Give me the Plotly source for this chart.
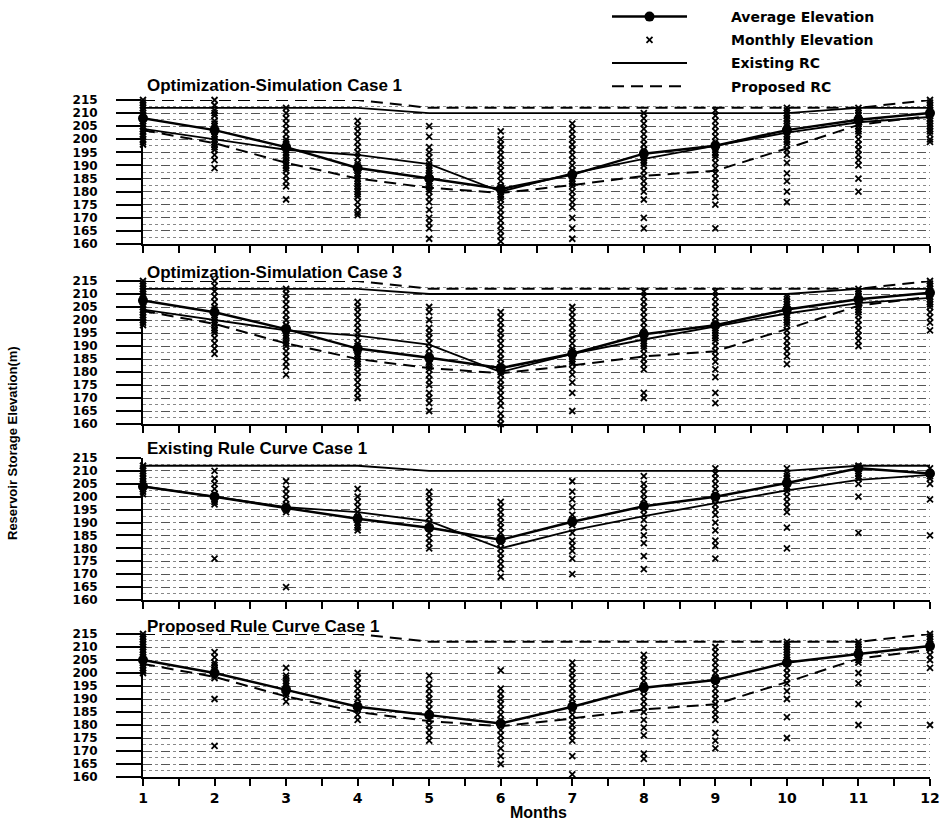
import plotly.graph_objects as go
from plotly.subplots import make_subplots

months = list(range(1, 13))

panel_titles = [
    "Optimization-Simulation Case 1",
    "Optimization-Simulation Case 3",
    "Existing Rule Curve Case 1",
    "Proposed Rule Curve Case 1",
]

# Rule curves (m)
existing_upper = [212, 212, 212, 212, 210, 210, 210, 210, 210, 210, 212, 212]
existing_lower = [204, 200, 196, 194, 190.5, 180, 187, 192.5, 197.5, 202.5, 206.5, 208.5]
proposed_upper = [215, 215, 215, 215, 212, 212, 212, 212, 212, 212, 212, 215]
proposed_lower = [203.5, 198.5, 191, 185, 181.5, 179.5, 182.5, 186, 188, 196.5, 205.5, 209]

# Average elevation per panel
avg_opt1 = [208, 203.5, 197, 189, 185, 181, 186.5, 194.5, 197.5, 203.5, 207.5, 210]
avg_opt3 = [207.5, 203, 196.5, 189, 185.5, 181.5, 187, 194.5, 198, 204, 208, 210.5]
avg_erc1 = [204, 200, 195.6, 191.5, 188, 183.3, 190.3, 196.3, 200, 205.3, 211, 209]
avg_prc1 = [205, 200, 193.5, 187, 183.8, 180.6, 187, 194.3, 197.3, 204, 207.3, 210.4]

# Monthly elevations, one list per month
monthly_opt1 = [
    [215, 214, 213, 212, 211, 210, 209, 208, 207, 206, 205, 204, 203, 202, 201, 200, 199, 198],
    [215, 213, 211, 210, 209, 207, 206, 205, 204, 203, 202, 201, 200, 199, 198, 197, 196, 194, 192, 189],
    [212, 210, 208, 206, 204, 202, 200, 199, 198, 197, 196, 195, 194, 193, 192, 191, 190, 189, 188, 186, 184, 182, 177],
    [207, 205, 203, 201, 199, 197, 195, 193, 191, 190, 189, 188, 187, 186, 185, 184, 183, 182, 181, 180, 179, 178, 176, 174, 172, 171],
    [205, 201, 197, 195, 193, 191, 190, 189, 188, 187, 186, 185, 184, 183, 182, 181, 180, 178, 176, 173, 170, 168, 166, 162],
    [203, 200, 198, 196, 194, 192, 190, 188, 186, 184, 182, 181, 180, 179, 178, 177, 175, 173, 171, 169, 167, 165, 163, 161],
    [206, 204, 202, 200, 198, 196, 194, 192, 190, 188, 186, 185, 184, 183, 182, 180, 178, 176, 174, 170, 166, 162],
    [210, 208, 206, 204, 202, 200, 198, 196, 195, 194, 193, 192, 191, 190, 188, 186, 184, 182, 180, 177, 170, 166],
    [211, 209, 207, 205, 203, 201, 199, 198, 197, 196, 195, 194, 193, 191, 189, 187, 185, 183, 181, 178, 175, 166],
    [212, 211, 210, 209, 208, 207, 206, 205, 204, 203, 202, 201, 200, 199, 198, 196, 194, 191, 187, 184, 180, 176],
    [212, 211, 210, 209, 208, 207, 206, 205, 204, 203, 202, 200, 198, 196, 194, 192, 190, 185, 180],
    [215, 214, 213, 212, 211, 210, 209, 208, 207, 206, 205, 204, 203, 202, 200, 199],
]
monthly_opt3 = [
    [215, 214, 213, 212, 211, 210, 209, 208, 207, 206, 205, 204, 203, 202, 201, 200, 199, 198],
    [215, 213, 211, 209, 207, 205, 204, 203, 202, 201, 200, 199, 198, 197, 196, 195, 193, 191, 189, 187],
    [212, 210, 208, 206, 204, 202, 200, 198, 197, 196, 195, 194, 193, 192, 191, 190, 188, 186, 184, 182, 179],
    [207, 205, 203, 201, 199, 197, 195, 193, 191, 190, 189, 188, 187, 186, 185, 184, 183, 182, 180, 178, 176, 174, 172, 170],
    [205, 203, 200, 197, 195, 193, 191, 189, 187, 186, 185, 184, 183, 182, 181, 179, 177, 175, 172, 170, 168, 165],
    [203, 201, 199, 197, 195, 193, 191, 189, 187, 185, 183, 182, 181, 180, 179, 177, 175, 173, 171, 169, 167, 164, 162, 160],
    [205, 203, 201, 199, 197, 195, 193, 191, 189, 188, 187, 186, 185, 184, 183, 181, 179, 176, 172, 165],
    [211, 209, 207, 205, 203, 201, 199, 197, 195, 194, 193, 192, 191, 190, 189, 187, 185, 183, 181, 172, 170],
    [211, 209, 207, 205, 203, 201, 199, 198, 197, 196, 195, 194, 193, 192, 190, 188, 186, 184, 181, 178, 172, 168],
    [209, 208, 207, 206, 205, 204, 203, 202, 201, 200, 199, 198, 196, 194, 192, 190, 188, 186, 183],
    [212, 211, 210, 209, 208, 207, 206, 205, 204, 203, 202, 200, 198, 196, 194, 192, 190],
    [215, 214, 213, 212, 211, 210, 209, 208, 207, 206, 205, 203, 201, 199, 196],
]
monthly_erc1 = [
    [212, 211, 210, 209, 208, 207, 206, 205, 204, 203, 202, 201],
    [210, 207, 205, 203, 201, 200, 199, 198, 197, 176],
    [206, 203, 201, 199, 197, 196, 195, 194, 165],
    [203, 200, 198, 196, 194, 192, 190, 189, 188, 187],
    [202, 200, 198, 196, 194, 192, 190, 188, 186, 184, 182, 180],
    [198, 196, 194, 192, 190, 188, 186, 184, 182, 180, 178, 176, 174, 172, 169],
    [206, 202, 199, 196, 193, 191, 189, 186, 183, 181, 179, 176, 170],
    [208, 205, 203, 201, 199, 197, 195, 193, 191, 188, 185, 182, 177, 172],
    [211, 209, 207, 205, 203, 201, 199, 197, 195, 193, 190, 187, 183, 181, 176],
    [211, 209, 208, 207, 206, 205, 204, 203, 202, 200, 198, 196, 194, 188, 180],
    [212, 211, 210, 209, 208, 207, 205, 200, 186],
    [211, 209, 208, 207, 205, 199, 185],
]
monthly_prc1 = [
    [215, 214, 213, 212, 211, 210, 209, 208, 207, 206, 205, 204, 203, 202, 201, 200],
    [208, 206, 204, 203, 202, 201, 200, 199, 198, 190, 172],
    [202, 199, 198, 197, 196, 195, 194, 193, 192, 191, 189],
    [200, 198, 196, 194, 192, 190, 188, 186, 184, 182],
    [199, 196, 194, 192, 190, 188, 186, 184, 182, 180, 178, 176, 174],
    [201, 194, 192, 190, 188, 186, 184, 182, 180, 178, 176, 174, 171, 168, 165],
    [204, 202, 200, 198, 196, 194, 192, 190, 188, 186, 184, 182, 180, 178, 176, 174, 168, 161],
    [207, 205, 203, 201, 199, 197, 195, 193, 191, 189, 187, 185, 182, 179, 176, 169, 167],
    [210, 208, 206, 204, 202, 200, 198, 196, 194, 192, 190, 188, 186, 184, 182, 177, 174, 171],
    [212, 211, 210, 209, 208, 207, 206, 205, 204, 202, 200, 198, 196, 193, 190, 183, 175],
    [212, 211, 210, 209, 208, 207, 206, 205, 204, 200, 196, 188, 180],
    [215, 214, 213, 212, 211, 210, 209, 207, 205, 202, 180],
]

x_tick_labels = [str(m) for m in months]
y_tick_vals = list(range(160, 216, 5))

panels = [
    dict(avg=avg_opt1, monthly=monthly_opt1, existing=True, proposed=True),
    dict(avg=avg_opt3, monthly=monthly_opt3, existing=True, proposed=True),
    dict(avg=avg_erc1, monthly=monthly_erc1, existing=True, proposed=False),
    dict(avg=avg_prc1, monthly=monthly_prc1, existing=False, proposed=True),
]

W, H = 943, 821
fig = make_subplots(rows=4, cols=1)

BOLD = "DejaVu Sans"
TFONT = "Liberation Sans"
PAD = "\u00a0" * 8

def rc_xy(upper, lower):
    return months + [None] + months, upper + [None] + lower

for i, p in enumerate(panels):
    r = i + 1
    first = i == 0
    mx, my = [], []
    for m, vals in zip(months, p["monthly"]):
        mx += [m] * len(vals)
        my += vals
    fig.add_trace(go.Scatter(
        x=mx, y=my, mode="markers", name=PAD + "Monthly Elevation",
        legendgroup="b", legendrank=2, showlegend=first, cliponaxis=False,
        marker=dict(symbol="x-thin-open", size=6, color="black",
                    line=dict(color="black", width=1.8)),
    ), row=r, col=1)
    if p["existing"]:
        ex, ey = rc_xy(existing_upper, existing_lower)
        fig.add_trace(go.Scatter(
            x=ex, y=ey, mode="lines", name=PAD + "Existing RC",
            legendgroup="c", legendrank=3, showlegend=first, cliponaxis=False,
            line=dict(color="black", width=1.8),
        ), row=r, col=1)
    if p["proposed"]:
        px_, py_ = rc_xy(proposed_upper, proposed_lower)
        fig.add_trace(go.Scatter(
            x=px_, y=py_, mode="lines", name=PAD + "Proposed RC",
            legendgroup="d", legendrank=4, showlegend=first, cliponaxis=False,
            line=dict(color="black", width=2, dash="12px,7px"),
        ), row=r, col=1)
    fig.add_trace(go.Scatter(
        x=months, y=p["avg"], mode="lines+markers",
        name=PAD + "Average Elevation",
        legendgroup="a", legendrank=1, showlegend=first, cliponaxis=False,
        line=dict(color="black", width=2.5),
        marker=dict(symbol="circle", size=10, color="black"),
    ), row=r, col=1)

pix = [(100, 244), (281, 424), (458, 600), (634, 777)]
x_dom = [143 / W, 930 / W]
for i, (top, bot) in enumerate(pix):
    r = i + 1
    fig.update_yaxes(
        domain=[1 - bot / H, 1 - top / H], range=[160, 215],
        tickvals=y_tick_vals, ticks="outside", ticklen=25, tickwidth=2,
        tickcolor="black", showline=True, linecolor="black", linewidth=2,
        tickfont=dict(family=BOLD, size=12, color="black", weight="bold"),
        ticklabelstandoff=16,
        showgrid=True, gridcolor="#555", griddash="dash", gridwidth=1,
        minor=dict(dtick=2.5, tick0=160, showgrid=True, gridcolor="#888",
                   griddash="dot", ticks=""),
        zeroline=False, row=r, col=1,
    )
    fig.update_xaxes(
        domain=x_dom, range=[1, 12], tickvals=months,
        ticktext=x_tick_labels, showticklabels=(r == 4),
        ticks="outside", ticklen=7, tickwidth=2, tickcolor="black",
        minor=dict(dtick=0.5, tick0=1, ticks="outside", ticklen=7,
                   tickwidth=2, tickcolor="black", showgrid=False),
        showline=True, linecolor="black", linewidth=2, showgrid=False,
        zeroline=False,
        tickfont=dict(family=BOLD, size=14, color="black", weight="bold"),
        row=r, col=1,
    )

title_y = [86, 272, 449, 626]
annotations = []
for t, ty in zip(panel_titles, title_y):
    annotations.append(dict(
        text=t, xref="paper", yref="paper", x=145 / W, y=1 - ty / H,
        xanchor="left", yanchor="middle", showarrow=False,
        font=dict(family=TFONT, size=17, color="black", weight="bold"),
    ))
annotations.append(dict(
    text="Months", xref="paper", yref="paper", x=538 / W, y=1 - 812 / H,
    xanchor="center", yanchor="middle", showarrow=False,
    font=dict(family=TFONT, size=16, color="black", weight="bold"),
))
annotations.append(dict(
    text="Reservoir Storage Elevation(m)", xref="paper", yref="paper",
    x=12 / W, y=1 - 443 / H, xanchor="center", yanchor="middle",
    textangle=-90, showarrow=False,
    font=dict(family=TFONT, size=13, color="black", weight="bold"),
))

fig.update_layout(
    width=W, height=H,
    margin=dict(l=0, r=0, t=0, b=0, autoexpand=False),
    paper_bgcolor="white", plot_bgcolor="white",
    annotations=annotations,
    legend=dict(
        x=607 / W, y=1 - 1 / H, xanchor="left", yanchor="top",
        traceorder="grouped", tracegroupgap=2, itemwidth=75,
        font=dict(family=BOLD, size=14, color="black", weight="bold"),
        bgcolor="rgba(255,255,255,0)",
    ),
)

fig.write_html(
    "out.html",
    config={"displayModeBar": False},
    post_script="document.body.style.margin='0px';document.body.style.overflow='hidden';",
)
